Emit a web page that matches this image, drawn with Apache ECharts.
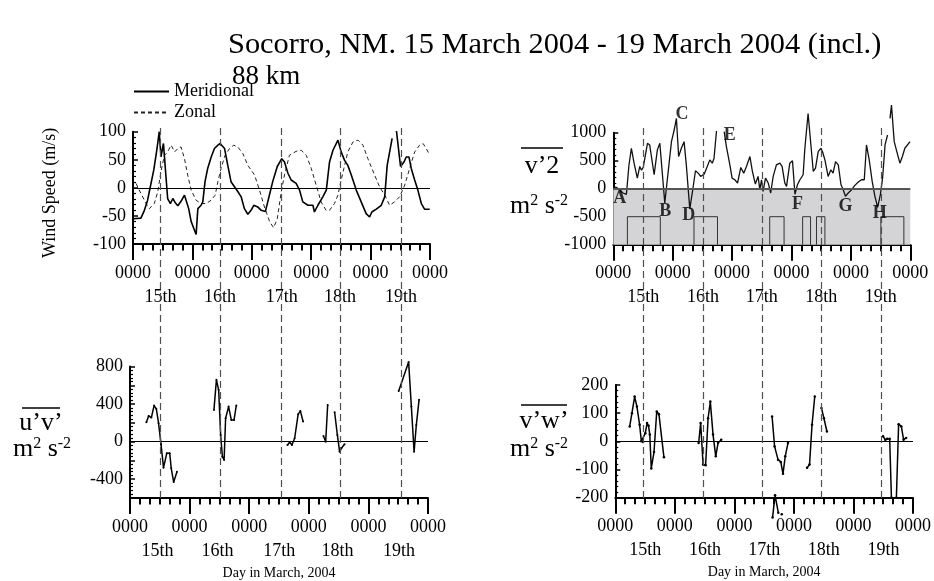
<!DOCTYPE html>
<html><head><meta charset="utf-8">
<script src="https://cdn.jsdelivr.net/npm/echarts@6/dist/echarts.min.js"></script>
<style>html,body{margin:0;padding:0;background:#fff}#c{width:934px;height:581px}</style>
</head><body><div id="c"></div>
<script>
const FONT = 'Liberation Serif';
const titleText = 'Socorro, NM. 15 March 2004 - 19 March 2004 (incl.)';
const subTitleText = '88 km';
const xTickLabel = '0000';
const dayLabels = ['15th', '16th', '17th', '18th', '19th'];
const dashLeft = [11.1, 35.2, 60.1, 83.6, 108.3];
const dashRight = [12.1, 36.2, 60.0, 84.0, 108.1];

// Wind speed (m/s), hours from start
const meridional = [[0,-55],[3.2,-54],[4.6,-40],[5.9,-22],[7,2],[8.4,32],[9.7,70],[10.6,100],[11.3,55],[12.3,79],[14,-19],[15.1,-28],[16.1,-19],[17,-26],[18.1,-32],[19.4,-24],[20.8,-13],[21.4,-11],[22.5,-37],[23.5,-60],[24.8,-75],[25.5,-83],[26.2,-37],[27.5,-31],[28.2,-25],[29.1,11],[30.2,35],[31.6,55],[32.9,70],[34.3,76],[35.2,79],[37,70],[38.3,40],[39.6,11],[41,2],[42.4,-7],[43.7,-16],[45,-37],[46.4,-47],[47.7,-40],[48.8,-31],[50.4,-34],[51.8,-40],[53.5,-42],[55,-15],[56.5,12],[58.3,38],[60.1,52],[61.2,46],[62.6,26],[63.9,14],[65.9,8],[67.3,-4],[68.6,-25],[70.7,-31],[72.7,-31],[73.3,-43],[74.7,-31],[76.7,-16],[78.1,-4],[79.4,46],[80.8,67],[82.8,85],[83.5,88],[84.1,64],[85.5,49],[86.8,40],[88.2,23],[90.2,-4],[92.2,-25],[94.2,-46],[95.6,-52],[96.5,-43],[98.3,-38],[100.3,-31],[101.7,-16],[102.7,40],[104.7,88],[105.5,'-'],[106.4,103],[108.1,38],[109.5,46],[110.4,55],[111.5,55],[112.4,35],[113.8,14],[115.1,-4],[116.5,-28],[117.8,-38],[119.9,-38]];
const zonal = [[1.2,8],[3.2,-10],[5.3,-28],[6.6,-37],[8.6,-28],[10,-7],[11.3,29],[12.7,58],[14,64],[15.4,76],[16.8,64],[18.1,70],[19.4,73],[20.8,52],[22.1,23],[23.5,-4],[25.5,-22],[27.5,-28],[29.5,-28],[31.6,-22],[33.2,-13],[34.3,11],[35.6,35],[37.2,58],[39,70],[40.7,76],[42.3,73],[44.4,61],[46.4,40],[49.1,23],[51.1,-4],[53.1,-34],[55.2,-60],[56.8,-71],[58.3,-55],[59.9,-7],[61.2,23],[63.2,58],[65.9,65],[68,67],[70,58],[72,35],[74,5],[76,-25],[78,-40],[79.4,-40],[81.4,-28],[82.8,-13],[84.1,14],[85.5,40],[86.8,64],[88.9,82],[90.9,85],[92.9,76],[94.9,52],[97.6,23],[99.6,2],[101.7,-13],[103.7,-31],[105.7,-25],[107.7,-16],[109.8,5],[111.8,35],[113.8,64],[115.8,76],[117.2,79],[118.5,70],[119.9,58]];

// v'^2 (m^2 s^-2) segments
const vSquaredSegs = [
  [[0,30],[1.2,24],[2.6,-18],[3.9,-77],[5.3,-100],[6.3,410],[7.3,722],[8.4,456],[9.7,189],[10.7,397],[11.4,330],[12.1,380],[13.8,811],[14.7,781],[16.5,249],[17.8,693],[18.8,811],[20.8,-255],[23.5,840],[24.6,1048],[25.5,1255],[26.4,574],[27.5,722],[28.6,840],[29.5,426],[30.9,-360],[32.2,12],[33.2,320],[34.3,278],[35.3,219],[36.7,260],[38,400],[39,515],[40,456],[40.7,545],[41.7,1030]],
  [[44.8,1018],[45.7,752],[47.1,426],[48,189],[49.1,160],[50.2,101],[51.5,379],[52.7,278],[53.8,397],[55.2,574],[56.2,308],[57.4,83],[58.5,219],[59.2,-18],[59.9,160],[60.5,-47],[61.5,189],[62.6,101],[63.6,-77],[64.6,219],[65.9,426],[67.3,456],[68.2,397],[69.3,101],[70,41],[71.3,456],[72.4,497],[73.4,-100],[74.4,71],[75.4,160],[76.7,249],[77.4,722],[78.7,1344],[80.8,308],[81.7,367],[82.8,663],[83.9,722],[84.6,650],[85.5,515],[86.8,219],[87.9,337],[88.8,280],[89.8,485],[90.9,426],[92,71],[92.9,-18],[93.8,-136],[94.9,-77],[96.3,-18],[97.6,59],[99,118],[100.3,160],[101.4,160],[102.3,781],[103.4,515],[104.6,130],[105.7,-136],[106.8,-332],[107.9,-107],[108.8,189],[109.8,781],[110.8,959]],
  [[111.8,1255],[112.4,1492],[113.5,840],[114.9,604],[115.8,456],[116.8,574],[117.8,722],[119.9,840]]
];
const boxStarts = [5.7, 32.6, 63.2, 76.5, 82.1, 108.1];
const boxEnds = [19.0, 42.1, 69.0, 79.7, 85.5, 117.4];
const boxLow = -1000, boxHigh = -500;
const eventLetters = [[2.6,-178,'A'],[21.0,-403,'B'],[27.8,1326,'C'],[30.5,-474,'D'],[47.1,947,'E'],[74.4,-272,'F'],[93.8,-314,'G'],[107.7,-432,'H']];

// u'v' segments
const uvSegs = [
  [[6.6,206],[7.5,274],[8.6,256],[9.7,384],[10.6,349],[11.5,196],[12.5,-30],[13.5,-277],[14.8,-124],[16,-124],[16.6,-284],[17.6,-430],[18.9,-320]],
  [[33.8,338],[34.8,658],[35.7,552],[36.5,71],[37.2,-160],[37.9,-195],[38.5,249],[39.7,373],[40.8,231],[41.9,231],[42.8,384]],
  [[63.4,-35],[64.3,-7],[65.2,-35],[66.3,36],[67.7,291],[68.6,327],[69.7,214]],
  [[77.9,61],[78.8,0],[79.6,391]],
  [[82.4,313],[83.5,71],[84.4,-107],[85.1,-71],[86.4,-28]],
  [[108.2,540],[112.2,847],[113.3,373],[114.4,-107],[115.3,178],[116.4,445]]
];
// v'w' segments
const vwSegs = [
  [[5.8,53],[6.7,100],[7.8,159],[8.7,124],[9.8,59],[10.5,0],[11.2,-2],[12.1,29],[12.8,65],[13.4,55],[13.9,24],[14.5,-96],[15.6,-38],[16.7,106],[17.6,96],[19.6,-56]],
  [[33.6,-6],[34.4,65],[35.4,-82],[36.4,-85],[37.4,82],[38.3,141],[39.4,24],[40.5,-53],[41.4,-6],[42.7,6]],
  [[63.2,88],[64.2,-18],[65.6,-65],[66.7,-73],[67.6,-115],[68.5,-53],[69.6,-6]],
  [[63.4,-270],[64.4,-191],[65.7,-253]],
  [[67.1,-259]],
  [[77.3,-94],[78.3,-82],[79.3,59],[80.4,159]],
  [[83.1,118],[84.1,82],[85.3,35]],
  [[107.9,18],[108.8,6],[109.6,9],[110.6,9],[111.3,-200],[113.3,-200],[114.2,61],[115.3,53],[116.2,6],[117.2,12]]
];

function joinSegs(segs) {
  const out = [];
  segs.forEach((s, i) => { if (i) out.push([s[0][0], '-']); s.forEach(p => out.push(p)); });
  return out;
}
function boxData() {
  const out = [];
  boxStarts.forEach((a, i) => {
    const b = boxEnds[i];
    if (i) out.push([a, '-']);
    out.push([a, boxLow], [a, boxHigh], [b, boxHigh], [b, boxLow]);
  });
  return out;
}

const grids = [
  {left: 133, top: 131.7, width: 297, height: 112.3},
  {left: 613.3, top: 132.7, width: 297, height: 112},
  {left: 130, top: 366.5, width: 298, height: 132.5},
  {left: 615.3, top: 385, width: 297.7, height: 112.7},
  {left: 133, top: 125, width: 297, height: 373},
  {left: 613.3, top: 126, width: 297, height: 372}
];

const black = '#000';
const TICKFONT = 18;
function mainX(g) {
  return {type: 'value', gridIndex: g, min: 0, max: 120, interval: 24, position: 'bottom',
    axisLine: {show: true, onZero: false, lineStyle: {color: black, width: 2}},
    axisTick: {show: true, length: 16, lineStyle: {color: black, width: 2}},
    minorTick: {show: true, splitNumber: 6, length: 6.5, lineStyle: {color: black, width: 2}},
    splitLine: {show: false}, minorSplitLine: {show: false},
    axisLabel: {formatter: () => xTickLabel, fontFamily: FONT, fontSize: TICKFONT, color: black, margin: 20, showMinLabel: true, showMaxLabel: true}
  };
}
function dayX(g, vals, withName) {
  const ax = {type: 'value', gridIndex: g, min: 0, max: 120, position: 'bottom',
    axisLine: {show: false, onZero: false}, axisTick: {show: false}, splitLine: {show: false},
    axisLabel: {customValues: vals, fontFamily: FONT, fontSize: TICKFONT, color: black, margin: 44,
      formatter: v => { let bi = 0; vals.forEach((x, i) => { if (Math.abs(x - v) < Math.abs(vals[bi] - v)) bi = i; }); return dayLabels[bi]; }}
  };
  if (withName) {
    ax.name = 'Day in March, 2004'; ax.nameLocation = 'middle'; ax.nameGap = 68;
    ax.nameTextStyle = {fontFamily: FONT, fontSize: 14, color: black};
  }
  return ax;
}
function yAx(g, min, max, interval, split, fmt) {
  const ax = {type: 'value', gridIndex: g, min, max, interval,
    axisLine: {show: true, onZero: false, lineStyle: {color: black, width: 2}},
    axisTick: {show: true, inside: true, length: 5, lineStyle: {color: black, width: 1.5}},
    minorTick: {show: true, splitNumber: split, length: 3, lineStyle: {color: black, width: 1.2}},
    splitLine: {show: false}, minorSplitLine: {show: false},
    axisLabel: {fontFamily: FONT, fontSize: TICKFONT, color: black, margin: 7, formatter: fmt || (v => String(v))}
  };
  return ax;
}
function zeroLine(color, width) {
  return {silent: true, symbol: ['none', 'none'], label: {show: false}, animation: false,
    lineStyle: {type: 'solid', color, width}, data: [{yAxis: 0}]};
}
function dashLines(vals) {
  return {silent: true, symbol: ['none', 'none'], label: {show: false}, animation: false,
    lineStyle: {type: [7, 4], color: '#505050', width: 1.2}, data: vals.map(v => ({xAxis: v}))};
}

const xAxes = [mainX(0), dayX(0, dashLeft, false), mainX(1), dayX(1, dashRight, false),
  mainX(2), dayX(2, dashLeft, true), mainX(3), dayX(3, dashRight, true),
  {type: 'value', gridIndex: 4, min: 0, max: 120, show: false},
  {type: 'value', gridIndex: 5, min: 0, max: 120, show: false}];
const wsY = yAx(0, -100, 100, 50, 5);
wsY.name = 'Wind Speed (m/s)'; wsY.nameLocation = 'middle'; wsY.nameGap = 74; wsY.nameRotate = 90;
wsY.nameTextStyle = {fontFamily: FONT, fontSize: 18, color: black, padding: [0, 10, 0, 0]};
const yAxes = [wsY, yAx(1, -1000, 1000, 500, 5), yAx(2, -600, 800, 200, 5, v => (v % 400 === 0 ? String(v) : '')),
  yAx(3, -200, 200, 100, 5),
  {type: 'value', gridIndex: 4, min: 0, max: 1, show: false},
  {type: 'value', gridIndex: 5, min: 0, max: 1, show: false}];

const series = [
  {name: 'Meridional', type: 'line', xAxisIndex: 0, yAxisIndex: 0, data: meridional, symbol: 'none',
    lineStyle: {color: black, width: 1.6}, itemStyle: {color: black}, markLine: zeroLine(black, 1), z: 3},
  {name: 'Zonal', type: 'line', xAxisIndex: 0, yAxisIndex: 0, data: zonal, symbol: 'none',
    lineStyle: {color: '#222', width: 1, type: [4, 3]}, itemStyle: {color: '#222'}, z: 2},
  {type: 'line', xAxisIndex: 2, yAxisIndex: 1, data: boxData(), symbol: 'none', clip: false,
    lineStyle: {color: '#333', width: 1}, z: 2,
    markArea: {silent: true, itemStyle: {color: '#d4d4d6'}, data: [[{xAxis: 0, yAxis: -1000}, {xAxis: 120, yAxis: 0}]]}},
  {type: 'line', xAxisIndex: 2, yAxisIndex: 1, data: joinSegs(vSquaredSegs), symbol: 'none', clip: false,
    lineStyle: {color: '#111', width: 1.3}, markLine: zeroLine('#555', 2), z: 3},
  {type: 'scatter', xAxisIndex: 2, yAxisIndex: 1, data: eventLetters, symbolSize: 1, clip: false,
    itemStyle: {color: 'rgba(0,0,0,0)'}, z: 5,
    label: {show: true, position: 'inside', formatter: p => p.data[2], fontFamily: FONT, fontWeight: 'bold', fontSize: 18, color: black}},
  {type: 'line', xAxisIndex: 4, yAxisIndex: 2, data: joinSegs(uvSegs), symbol: 'circle', symbolSize: 2, showSymbol: true, clip: false,
    lineStyle: {color: black, width: 1.5}, itemStyle: {color: black}, markLine: zeroLine(black, 1)},
  {type: 'line', xAxisIndex: 6, yAxisIndex: 3, data: joinSegs(vwSegs), symbol: 'circle', symbolSize: 2.5, showSymbol: true, clip: false,
    lineStyle: {color: black, width: 1.5}, itemStyle: {color: black}, markLine: zeroLine(black, 1)},
  {type: 'line', xAxisIndex: 8, yAxisIndex: 4, data: [[0, 0]], symbol: 'none', lineStyle: {opacity: 0}, markLine: dashLines(dashLeft), z: 6},
  {type: 'line', xAxisIndex: 9, yAxisIndex: 5, data: [[0, 0]], symbol: 'none', lineStyle: {opacity: 0}, markLine: dashLines(dashRight), z: 6}
];

const richSup = {
  b: {fontFamily: FONT, fontSize: 26, color: black},
  s: {fontFamily: FONT, fontSize: 16, color: black, verticalAlign: 'top', padding: [0, 0, 10, 0]}
};
function label2(x, y, text) {
  return {type: 'text', x, y, z: 10, style: {text, rich: richSup, font: '26px ' + FONT, fill: black, align: 'center', verticalAlign: 'bottom'}};
}
function over(x1, x2, y) {
  return {type: 'line', z: 10, shape: {x1, y1: y, x2, y2: y}, style: {stroke: black, lineWidth: 1.5}};
}
const graphic = [
  label2(542, 179, '{b|v’}{b|2}'), over(521, 563, 148), label2(539, 219, '{b|m}{s|2}{b| s}{s|-2}'),
  label2(41, 436, '{b|u’v’}'), over(22, 60, 408), label2(42, 462, '{b|m}{s|2}{b| s}{s|-2}'),
  label2(544, 434, '{b|v’w’}'), over(521, 567, 405), label2(539, 462, '{b|m}{s|2}{b| s}{s|-2}')
];

const chart = echarts.init(document.getElementById('c'));
chart.setOption({
  animation: false,
  backgroundColor: '#fff',
  title: [
    {text: titleText, left: 228, top: 30, padding: 0, textStyle: {fontFamily: FONT, fontSize: 30.4, fontWeight: 'normal', color: black}},
    {text: subTitleText, left: 232, top: 63, padding: 0, textStyle: {fontFamily: FONT, fontSize: 27, fontWeight: 'normal', color: black}}
  ],
  legend: {data: ['Meridional', 'Zonal'], orient: 'vertical', left: 133, top: 82.5, padding: 0, itemWidth: 35, itemHeight: 14, itemGap: 3,
    itemStyle: {opacity: 0, borderWidth: 0},
    textStyle: {fontFamily: FONT, fontSize: 18, color: black}, selectedMode: false},
  grid: grids,
  xAxis: xAxes,
  yAxis: yAxes,
  series,
  graphic
});
</script></body></html>
